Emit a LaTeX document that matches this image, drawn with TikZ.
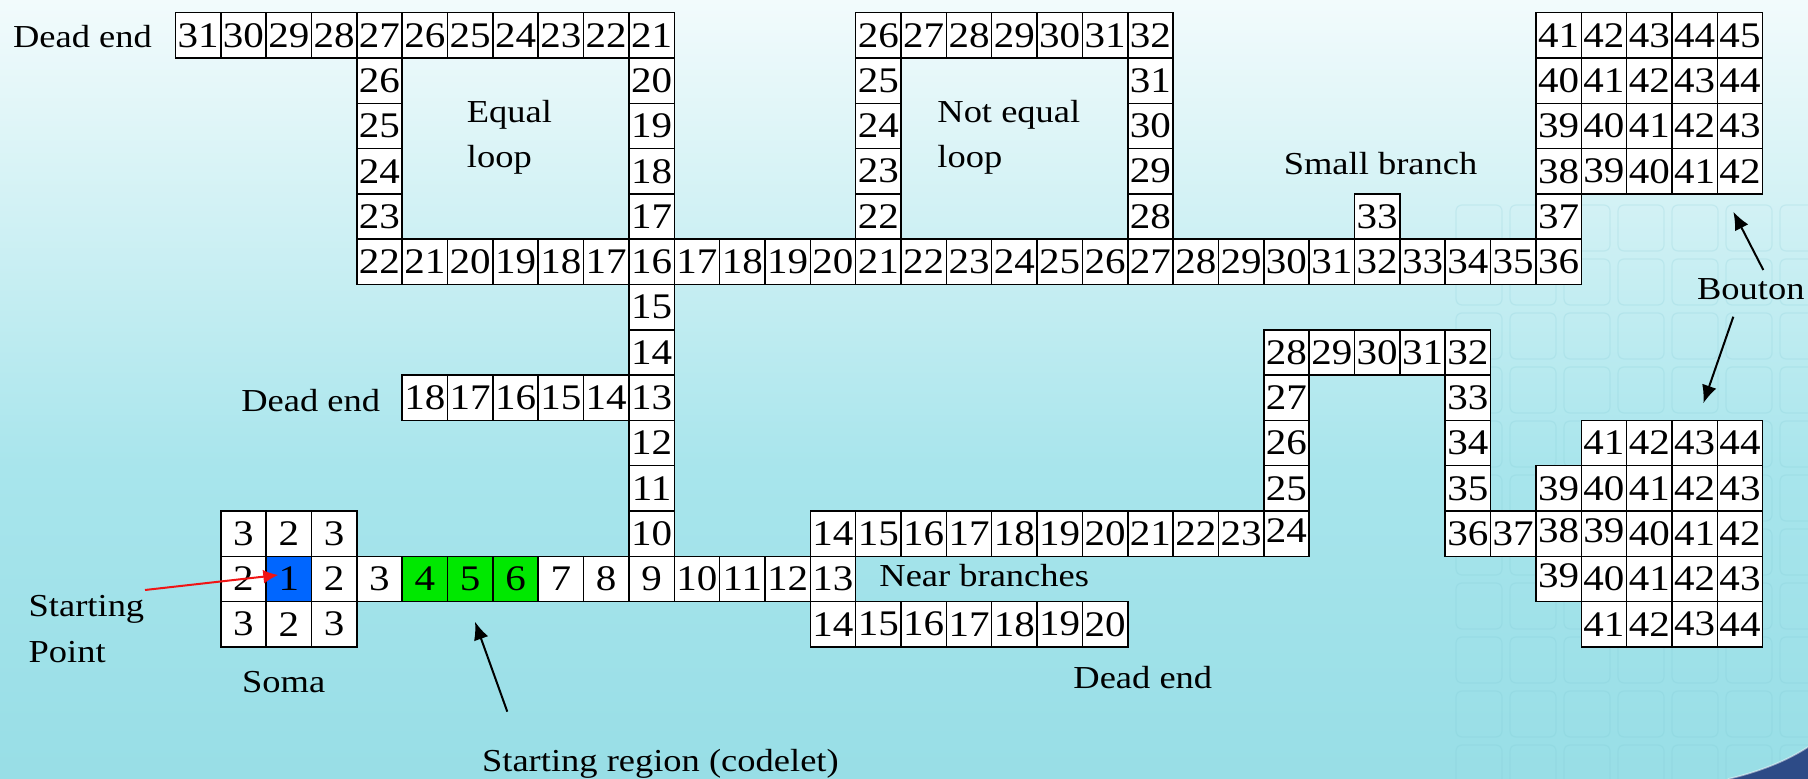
\documentclass[tikz,border=0pt]{standalone}
\usepackage{fontspec}
\setmainfont{Liberation Serif}
\newfontfamily\dfont{Liberation Serif}[FakeStretch=1.14]
\usetikzlibrary{arrows.meta}

\definecolor{bgtop}{RGB}{242,251,252}
\definecolor{bgup}{RGB}{212,242,245}
\definecolor{bgmid}{RGB}{168,229,236}
\definecolor{bgbot}{RGB}{152,222,230}
\definecolor{cellblue}{RGB}{0,102,255}
\definecolor{cellgreen}{RGB}{0,232,0}
\definecolor{arrowred}{RGB}{240,20,20}
\definecolor{swoosh}{RGB}{45,75,135}
\definecolor{faintsq}{RGB}{120,196,208}

\pgfdeclareverticalshading{bgshade}{100bp}{color(0bp)=(bgbot); color(25bp)=(bgbot); color(45bp)=(bgmid); color(62.5bp)=(bgup); color(75bp)=(bgtop); color(100bp)=(bgtop)}

\newcommand\cellseg[4][]{%
  \foreach \lab [count=\idx from 0] in {#4} {%
    \pgfmathtruncatemacro\cc{#3+\idx}%
    \node[cell,#1] (c\cc-#2) at (\cc+0.5,#2+0.5) {\lab};%
  }%
}
\newcommand\upnum[1]{\raisebox{1.5pt}[\height][\depth]{#1}}

\begin{document}
\begin{tikzpicture}[x=0.5pt,y=-0.5pt,
  cell/.style={draw=black, line width=0.75pt, fill=white,
    minimum width=22.675pt, minimum height=22.65pt,
    inner sep=0pt, outer sep=0pt, font=\dfont\fontsize{18}{20}\selectfont},
  bluecell/.style={fill=cellblue},
  greencell/.style={fill=cellgreen},
  lbl/.style={inner sep=0pt, anchor=base west, font=\dfont\fontsize{16}{20}\selectfont},
  lbltwo/.style={lbl, align=left, font=\dfont\fontsize{16}{22.5}\selectfont},
  arr/.style={draw=black, line width=1pt, -{Latex[length=9pt,width=7.5pt]}},
  redarr/.style={draw=arrowred, line width=1pt, -{Latex[length=7.5pt,width=7pt]}}
]
\useasboundingbox (0,0) rectangle (1808,779);
\shade[shading=bgshade] (0,0) rectangle (1808,779);

% faint background squares
\begin{scope}
\clip (0,0) rectangle (1808,779);
\foreach \i in {0,...,6} \foreach \j in {0,...,10}
  \draw[faintsq, opacity=0.18, rounded corners=3pt, line width=0.6pt]
    (1456+54*\i,205+54*\j) rectangle ++(46,46);
\fill[swoosh] (1728,779) .. controls (1762,771) and (1788,760) .. (1808,747) -- (1808,779) -- cycle;
\draw[white, opacity=0.5, line width=0.8pt] (1728,779) .. controls (1762,771) and (1788,760) .. (1808,747);
\end{scope}

% grid of cells
\begin{scope}[shift={(87.7pt,-6.35pt)}, x=22.675pt, y=-22.65pt]
% row 0
\cellseg{0}{0}{31,30,29,28,27,26,25,24,23,22,21}
\cellseg{0}{15}{26,27,28,29,30,31,32}
\cellseg{0}{30}{41,42,43,44,45}
% row 1
\cellseg{1}{4}{26}
\cellseg{1}{10}{20}
\cellseg{1}{15}{25}
\cellseg{1}{21}{31}
\cellseg{1}{30}{40,41,42,43,44}
% row 2
\cellseg{2}{4}{25}
\cellseg{2}{10}{19}
\cellseg{2}{15}{24}
\cellseg{2}{21}{30}
\cellseg{2}{30}{39,40,41,42,43}
% row 3
\cellseg{3}{4}{24}
\cellseg{3}{10}{18}
\cellseg{3}{15}{23}
\cellseg{3}{21}{29}
\cellseg{3}{30}{38,39,40,41,42}
% row 4
\cellseg{4}{4}{23}
\cellseg{4}{10}{17}
\cellseg{4}{15}{22}
\cellseg{4}{21}{28}
\cellseg{4}{26}{33}
\cellseg{4}{30}{37}
% row 5 (main trunk)
\cellseg{5}{4}{22,21,20,19,18,17,16,17,18,19,20,21,22,23,24,25,26,27,28,29,30,31,32,33,34,35,36}
% row 6
\cellseg{6}{10}{15}
% row 7
\cellseg{7}{10}{14}
\cellseg{7}{24}{28,29,30,31,32}
% row 8
\cellseg{8}{5}{18,17,16,15,14,13}
\cellseg{8}{24}{27}
\cellseg{8}{28}{33}
% row 9
\cellseg{9}{10}{12}
\cellseg{9}{24}{26}
\cellseg{9}{28}{34}
\cellseg{9}{31}{41,42,43,44}
% row 10
\cellseg{10}{10}{11}
\cellseg{10}{24}{25}
\cellseg{10}{28}{35}
\cellseg{10}{30}{39,40,41,42,43}
% row 11
\cellseg{11}{1}{3,2,3}
\cellseg{11}{10}{10}
\cellseg{11}{14}{14,15,16,17,18,19,20,21,22,23}
\node[cell] (c24-11) at (24.5,11.5) {\upnum{24}};
\cellseg{11}{28}{36,37}
\node[cell] (c30-11) at (30.5,11.5) {\upnum{38}};
\node[cell] (c31-11) at (31.5,11.5) {\upnum{39}};
\cellseg{11}{32}{40,41,42}
% row 12
\cellseg{12}{1}{2}
\node[cell,bluecell] (c2-12) at (2.5,12.5) {1};
\cellseg{12}{3}{2,3}
\cellseg[greencell]{12}{5}{4,5,6}
\cellseg{12}{8}{7,8,9,10,11,12,13}
\node[cell] (c30-12) at (30.5,12.5) {\upnum{39}};
\cellseg{12}{31}{40,41,42,43}
% row 13
\cellseg{13}{1}{3,2,3}
\cellseg{13}{14}{14,15,16,17,18,19,20}
\cellseg{13}{31}{41,42,43,44}
\end{scope}

% labels (two-line labels are anchored at the baseline of their last line)
\node[lbl] (deadend1) at (12.7,48) {Dead end};
\node[lbltwo] (eqloop) at (466.5,168) {Equal\\loop};
\node[lbltwo] (neqloop) at (937,168) {Not equal\\loop};
\node[lbl] (smallbr) at (1283.4,175) {Small branch};
\node[lbl] (bouton) at (1696.7,300) {Bouton};
\node[lbl] (deadend2) at (241,411.7) {Dead end};
\node[lbl] (nearbr) at (879,587) {Near branches};
\node[lbl] (deadend3) at (1073,688) {Dead end};
\node[lbltwo, font=\dfont\fontsize{16}{23}\selectfont] (startpt) at (28.3,662) {Starting\\Point};
\node[lbl] (soma) at (241.7,692) {Soma};
\node[lbl] (startreg) at (481.7,771) {Starting region (codelet)};

% arrows
\coordinate (sp-tail) at (145,590);
\coordinate (sp-tip) at (278.3,575);
\draw[redarr] (sp-tail) -- (sp-tip);
\coordinate (sr-tail) at (507.3,711.7);
\coordinate (sr-tip) at (475,621.7);
\draw[arr] (sr-tail) -- (sr-tip);
\coordinate (bu-tail) at (1763.3,270);
\coordinate (bu-tip) at (1733.3,211.7);
\draw[arr] (bu-tail) -- (bu-tip);
\coordinate (bd-tail) at (1733.3,316.7);
\coordinate (bd-tip) at (1703.3,403.3);
\draw[arr] (bd-tail) -- (bd-tip);
\end{tikzpicture}
\end{document}
